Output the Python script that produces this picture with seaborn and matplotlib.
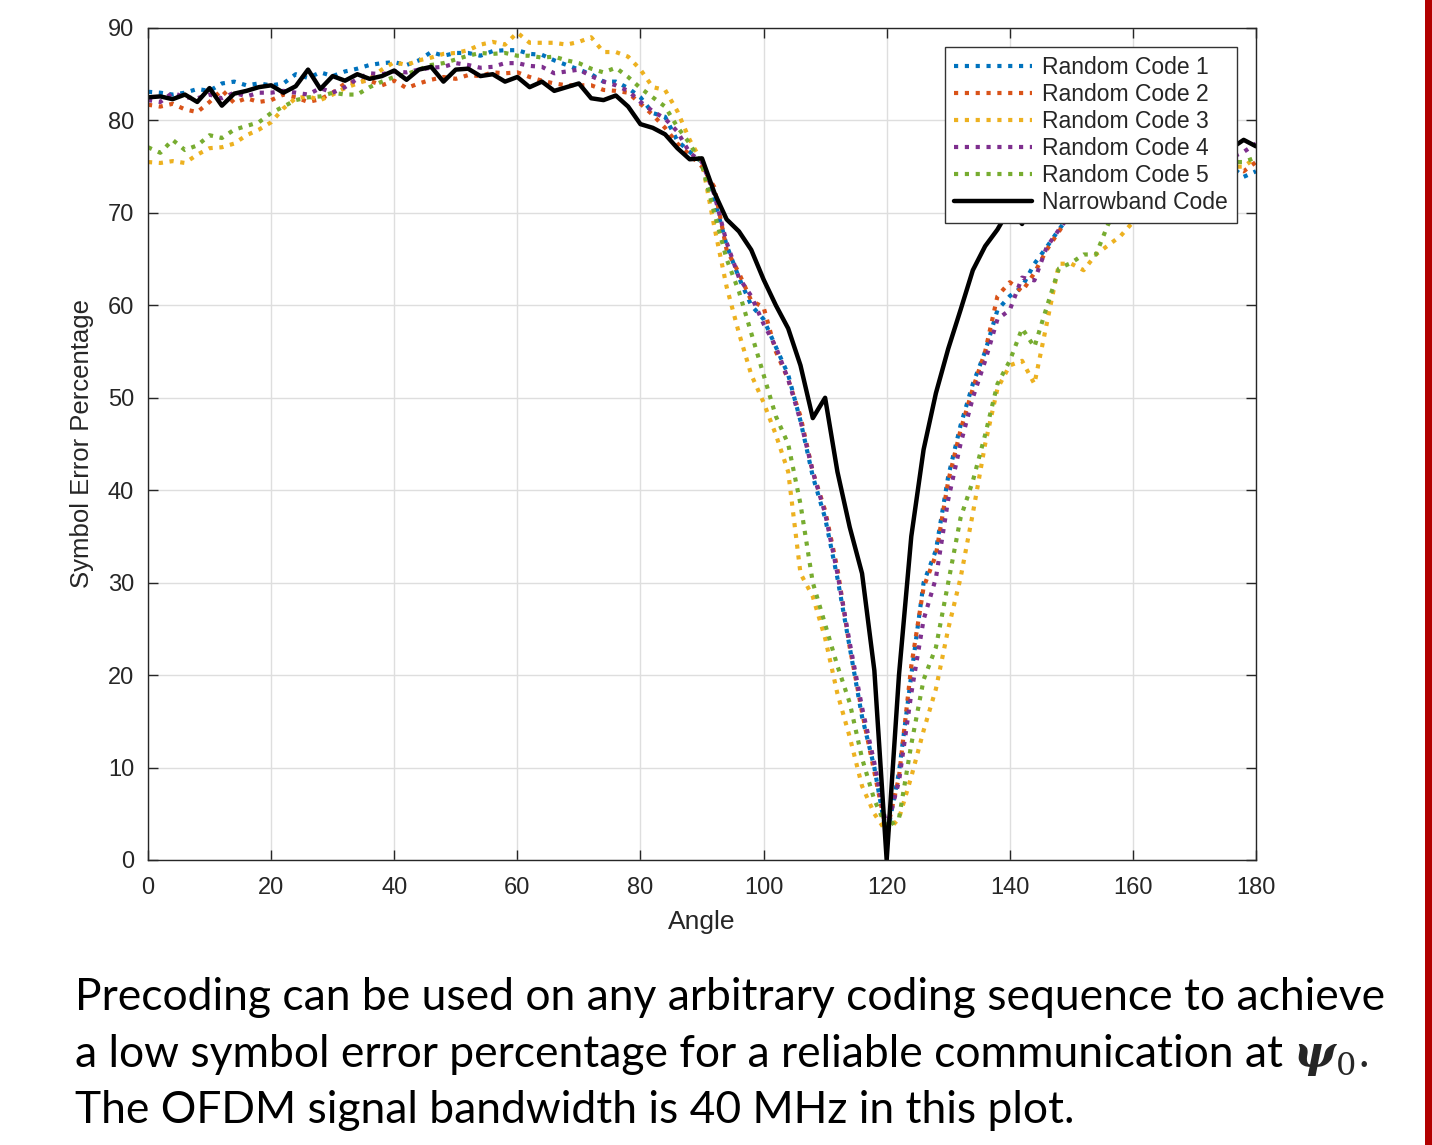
import matplotlib
matplotlib.use('Agg')
import matplotlib.pyplot as plt
import seaborn as sns
from matplotlib.patches import Rectangle

# angle grid (degrees)
angles = list(range(0, 181, 2))

random_code_1 = [
    83.1, 83.0, 82.8, 83.0, 83.4, 83.2, 84.0, 84.2, 83.8, 84.0,
    83.8, 84.0, 85.0, 84.6, 85.2, 84.8, 85.3, 85.6, 86.0, 86.2,
    86.3, 86.0, 86.5, 87.4, 87.0, 87.3, 87.3, 87.0, 87.5, 87.6,
    87.6, 87.2, 87.1, 86.5, 86.0, 85.5, 85.0, 84.2, 84.2, 83.5,
    82.5, 80.8, 80.4, 77.8, 76.6, 75.5, 71.5, 66.5, 63.0, 60.0,
    58.5, 55.5, 52.5, 47.5, 41.5, 37.0, 30.5, 23.0, 15.5, 10.0,
    2.5, 9.5, 20.0, 30.0, 33.5, 41.5, 47.0, 51.5, 55.0, 59.5,
    61.0, 62.0, 64.5, 66.3, 68.2, 70.0, 71.5, 72.5, 73.5, 74.0,
    75.0, 75.5, 76.0, 76.5, 76.5, 76.0, 76.0, 75.5, 75.0, 73.9,
    74.5]

random_code_2 = [
    81.7, 81.5, 81.8, 81.2, 80.9, 82.0, 83.3, 81.9, 82.4, 82.0,
    82.2, 82.8, 82.5, 82.0, 82.3, 83.0, 84.0, 84.2, 84.3, 83.8,
    84.3, 83.5, 84.0, 84.4, 84.7, 84.5, 84.9, 84.8, 85.2, 85.1,
    85.2, 84.7, 84.3, 84.0, 83.8, 83.8, 83.8, 83.3, 83.2, 83.0,
    81.8, 80.6, 79.2, 77.5, 76.3, 75.0, 72.8, 66.0, 63.5, 60.5,
    59.8, 55.0, 52.0, 48.0, 42.0, 37.8, 31.5, 23.0, 16.0, 9.5,
    3.0, 9.0, 21.0, 29.5, 33.0, 41.0, 46.5, 51.0, 55.0, 61.0,
    62.5, 61.5, 63.5, 66.0, 68.0, 70.0, 71.5, 72.5, 73.5, 74.5,
    75.0, 75.5, 76.0, 76.0, 76.5, 76.0, 75.5, 75.5, 75.0, 74.5,
    75.5]

random_code_3 = [
    75.5, 75.4, 75.6, 75.4, 76.3, 77.0, 77.1, 77.5, 78.4, 79.0,
    79.8, 81.3, 82.4, 82.6, 82.2, 82.8, 83.5, 84.0, 84.5, 85.5,
    86.3, 86.0, 86.5, 86.8, 87.2, 87.3, 87.6, 88.2, 88.5, 88.2,
    89.5, 88.4, 88.4, 88.4, 88.2, 88.5, 89.0, 87.4, 87.4, 86.9,
    85.5, 83.6, 83.3, 81.0, 77.9, 75.5, 68.5, 62.0, 57.0, 52.5,
    49.5, 46.0, 42.0, 31.0, 28.5, 24.0, 18.0, 13.3, 8.0, 5.0,
    3.0, 4.5, 9.0, 14.0, 18.5, 25.0, 30.5, 37.5, 45.0, 51.0,
    53.5, 54.0, 51.5, 58.0, 64.5, 64.5, 63.8, 65.5, 66.5, 67.5,
    69.0, 70.5, 71.5, 72.5, 73.5, 74.0, 74.5, 75.0, 75.0, 75.0,
    76.0]

random_code_4 = [
    82.2, 82.0, 83.0, 82.5, 82.4, 82.8, 82.4, 83.0, 82.6, 83.0,
    83.0, 83.2, 83.0, 82.8, 83.5, 83.0, 83.6, 84.5, 85.1, 85.0,
    85.3, 85.2, 85.5, 85.7, 85.8, 86.2, 86.0, 85.7, 85.8, 86.2,
    86.2, 85.9, 85.8, 85.1, 85.3, 85.5, 84.8, 84.2, 83.8, 83.2,
    82.0, 81.0, 80.2, 78.8, 76.5, 75.5, 72.0, 66.8, 63.0, 61.0,
    58.0, 55.5, 52.0, 47.5, 42.0, 37.5, 31.0, 23.5, 16.5, 10.5,
    3.5, 8.5, 18.0, 26.0, 30.5, 39.0, 45.0, 50.0, 54.0, 58.5,
    59.5, 63.0, 62.7, 66.3, 68.2, 70.0, 71.5, 72.5, 73.5, 74.0,
    74.5, 75.0, 75.5, 76.0, 76.0, 76.0, 76.0, 76.0, 76.0, 76.6,
    77.5]

random_code_5 = [
    77.1, 76.5, 77.9, 76.8, 77.3, 78.4, 78.1, 79.0, 79.4, 79.8,
    80.8, 81.5, 82.2, 82.5, 82.6, 83.0, 82.8, 82.8, 83.6, 84.2,
    84.7, 85.0, 85.5, 86.0, 86.2, 86.6, 87.0, 87.3, 87.2, 87.3,
    87.0, 87.0, 86.8, 86.9, 86.5, 86.2, 85.6, 85.2, 85.7, 84.7,
    83.5, 82.5, 81.5, 79.3, 77.5, 75.2, 70.0, 65.0, 61.5, 57.0,
    52.5, 48.0, 45.0, 38.5, 30.0, 25.5, 21.0, 17.0, 11.0, 6.5,
    3.5, 4.5, 12.5, 19.5, 23.0, 30.0, 37.0, 41.0, 46.0, 51.5,
    54.0, 57.5, 55.5, 59.8, 64.0, 64.6, 65.5, 65.5, 68.8, 70.5,
    71.5, 72.5, 73.5, 74.0, 74.5, 75.0, 75.5, 75.5, 75.5, 75.5,
    76.0]

narrowband_code = [
    82.5, 82.6, 82.3, 82.8, 82.0, 83.5, 81.6, 82.9, 83.2, 83.6,
    83.8, 83.0, 83.7, 85.5, 83.4, 84.8, 84.3, 85.0, 84.5, 84.8,
    85.4, 84.4, 85.5, 85.8, 84.2, 85.5, 85.6, 84.8, 85.0, 84.2,
    84.7, 83.6, 84.2, 83.2, 83.6, 84.0, 82.4, 82.2, 82.7, 81.5,
    79.6, 79.2, 78.5, 77.0, 75.8, 75.9, 72.2, 69.3, 68.0, 66.0,
    62.8, 60.0, 57.5, 53.5, 47.8, 50.0, 42.0, 36.0, 31.0, 20.5,
    0.0, 20.0, 35.0, 44.4, 50.5, 55.3, 59.5, 63.8, 66.4, 68.2,
    70.5, 68.8, 72.5, 75.0, 76.5, 77.5, 78.0, 78.5, 78.0, 78.5,
    79.0, 78.5, 79.0, 78.5, 78.0, 78.5, 78.0, 77.5, 77.0, 77.9,
    77.2]

series_names = ['Random Code 1', 'Random Code 2', 'Random Code 3',
                'Random Code 4', 'Random Code 5', 'Narrowband Code']
series_values = [random_code_1, random_code_2, random_code_3,
                 random_code_4, random_code_5, narrowband_code]
series_colors = ['#0072BD', '#D95319', '#EDB120', '#7E2F8E', '#77AC30', '#000000']

x_ticks = list(range(0, 181, 20))
y_ticks = list(range(0, 91, 10))

caption_lines = [
    'Precoding can be used on any arbitrary coding sequence to achieve',
    'a low symbol error percentage for a reliable communication at',
    'The OFDM signal bandwidth is 40 MHz in this plot.',
]

sns.set_style('ticks')
plt.rcParams['font.family'] = ['Liberation Sans', 'DejaVu Sans']

W, H = 1432, 1145
fig = plt.figure(figsize=(W / 100, H / 100), dpi=100)
ax = fig.add_axes([148 / W, 1 - 860 / H, (1256 - 148) / W, (860 - 28) / H])

for name, vals, col in zip(series_names, series_values, series_colors):
    if name == 'Narrowband Code':
        sns.lineplot(x=angles, y=vals, ax=ax, color=col, linewidth=3.2,
                     linestyle='-', label=name, estimator=None, sort=False)
    else:
        sns.lineplot(x=angles, y=vals, ax=ax, color=col, linewidth=3.0,
                     linestyle=(0, (1, 1.6)), label=name, estimator=None, sort=False)

ax.set_xlim(0, 180)
ax.set_ylim(0, 90)
ax.set_xticks(x_ticks)
ax.set_yticks(y_ticks)
ax.grid(True, color='0.87', linewidth=1.0)
ax.set_axisbelow(True)
ax.tick_params(direction='in', length=7, width=1, top=True, right=True,
               color='0.15', labelcolor='0.15', labelsize=17)
ax.tick_params(axis='x', pad=12)
ax.tick_params(axis='y', pad=10)
for sp in ax.spines.values():
    sp.set_visible(True)
    sp.set_color('0.15')
    sp.set_linewidth(1.0)

ax.set_xlabel('Angle', fontsize=19, color='0.15', labelpad=8)
ax.set_ylabel('Symbol Error Percentage', fontsize=18.5, color='0.15', labelpad=10)

handles, labels = ax.get_legend_handles_labels()
leg = ax.legend(handles, labels, loc='upper right',
                bbox_to_anchor=((1237 - 148) / 1108, (860 - 47) / 832),
                borderaxespad=0, frameon=True, fancybox=False, framealpha=1,
                edgecolor='0.2', fontsize=16.5, handlelength=3.4,
                handletextpad=0.45, labelspacing=0.17, borderpad=0.4)
leg.get_frame().set_linewidth(1.0)

# caption below the chart
renderer = fig.canvas.get_renderer()
probe = fig.text(0, 0, caption_lines[0], family='Lato', fontsize=30)
width_px = probe.get_window_extent(renderer).width
probe.remove()
cap_size = 30 * (1383 - 75) / width_px

baselines = [1010, 1067, 1123]
for line, yb in zip(caption_lines, baselines):
    fig.text(75 / W, 1 - yb / H, line, family='Lato', fontsize=cap_size,
             va='baseline', ha='left', color='black')

t2 = fig.texts[1]
x_end = t2.get_window_extent(renderer).x1 + cap_size * 0.32
psi = fig.text(x_end / W, 1 - 1067 / H, '\u03c8', family='DejaVu Serif',
               fontweight='bold', fontstyle='italic', fontsize=cap_size * 1.0,
               va='baseline', ha='left')
x_end = psi.get_window_extent(renderer).x1 + 1
sub = fig.text(x_end / W, 1 - 1075 / H, '0', family='DejaVu Serif',
               fontsize=cap_size * 0.72, va='baseline', ha='left')
x_end = sub.get_window_extent(renderer).x1 + 2
fig.text(x_end / W, 1 - 1067 / H, '.', family='Lato', fontsize=cap_size,
         va='baseline', ha='left')

# red bar at right edge
fig.add_artist(Rectangle((1424.5 / W, 0), 7.5 / W, 1, transform=fig.transFigure,
                         facecolor='#B20000', edgecolor='none'))

fig.savefig('out.png', dpi=100)
